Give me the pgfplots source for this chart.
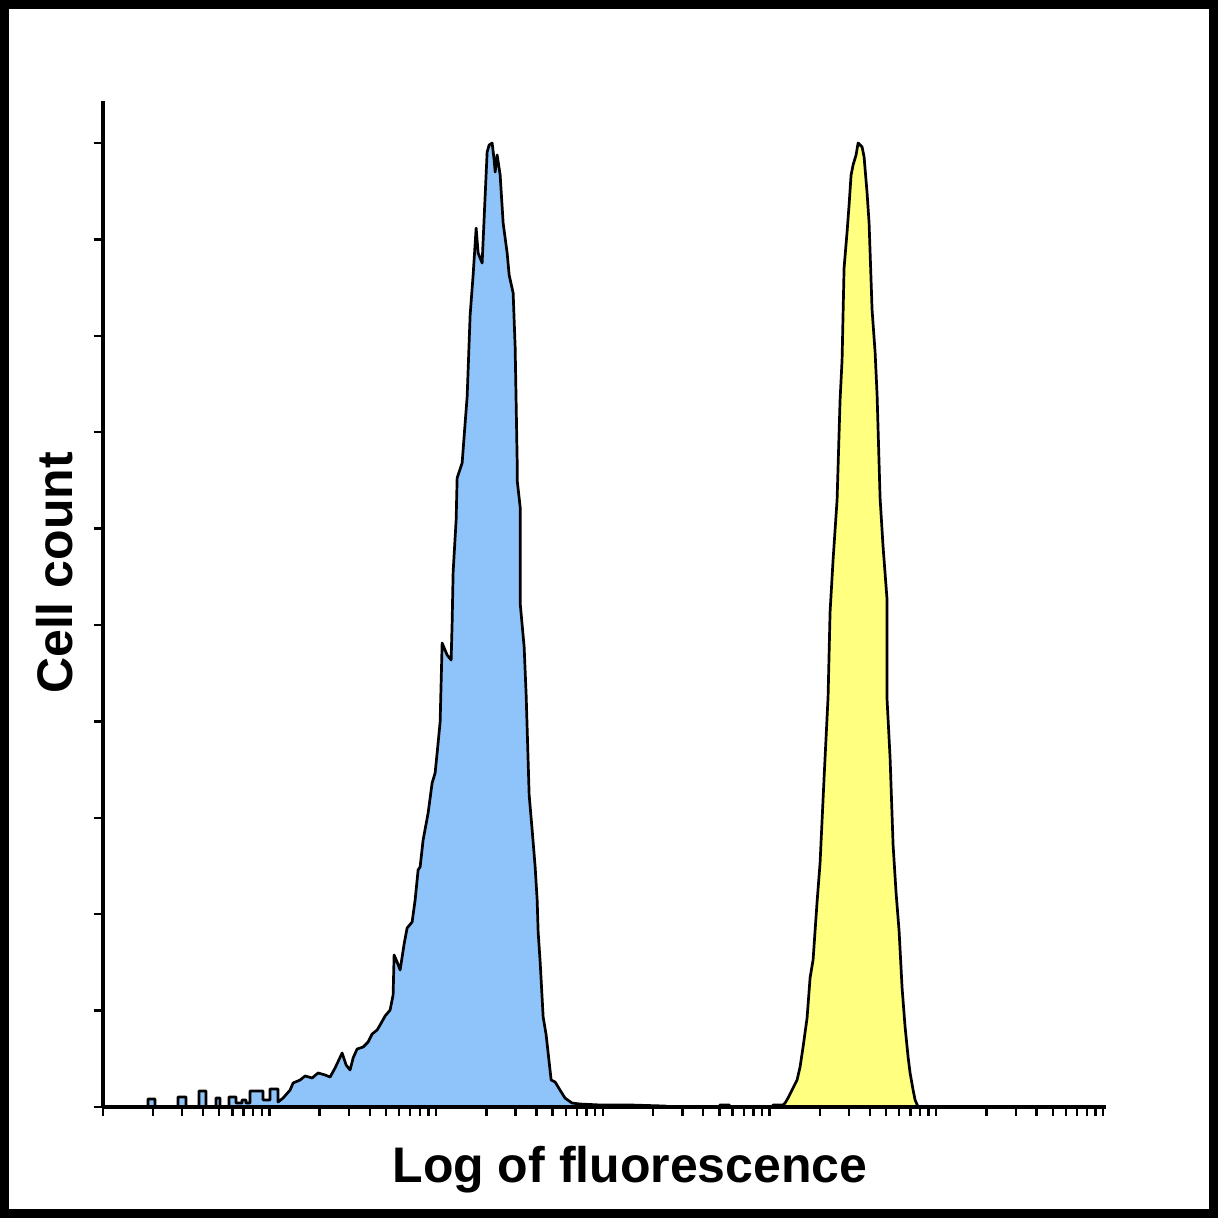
\documentclass[border=0pt]{standalone}
\usepackage{fontspec}
\setmainfont{Liberation Sans}
\usepackage{pgfplots}
\pgfplotsset{compat=1.18}
\usepackage{pgfplotstable}

\definecolor{histblue}{RGB}{142,196,250}
\definecolor{histyellow}{RGB}{255,255,128}

% x in decades (log10 of fluorescence), y in tick units
\pgfplotstableread{
x y
0.224 0
0.272 0
0.272 0.083
0.314 0.083
0.314 0
0.452 0
0.452 0.104
0.500 0.104
0.500 0
0.578 0
0.578 0.166
0.620 0.166
0.620 0
0.680 0
0.680 0.093
0.704 0.093
0.704 0
0.758 0
0.758 0.104
0.800 0.104
0.800 0.041
0.836 0.041
0.836 0.073
0.860 0.073
0.860 0.041
0.884 0.041
0.884 0.166
0.962 0.166
0.962 0.073
1.004 0.073
1.004 0.187
1.052 0.187
1.052 0.052
1.082 0.093
1.124 0.176
1.142 0.249
1.184 0.280
1.214 0.322
1.256 0.301
1.292 0.353
1.334 0.332
1.364 0.311
1.394 0.405
1.436 0.560
1.460 0.436
1.484 0.384
1.502 0.508
1.526 0.602
1.562 0.622
1.592 0.674
1.616 0.757
1.646 0.799
1.664 0.851
1.694 0.944
1.724 1.006
1.742 1.162
1.748 1.577
1.766 1.504
1.784 1.421
1.808 1.691
1.826 1.857
1.856 1.919
1.874 2.147
1.892 2.459
1.904 2.490
1.922 2.770
1.952 3.050
1.976 3.361
1.994 3.465
2.006 3.672
2.024 3.994
2.036 4.813
2.066 4.689
2.090 4.637
2.096 5.021
2.102 5.550
2.120 6.089
2.126 6.525
2.156 6.680
2.174 7.095
2.186 7.365
2.204 8.216
2.222 8.631
2.240 9.118
2.252 8.859
2.276 8.755
2.288 9.222
2.306 9.907
2.318 9.979
2.336 10.000
2.348 9.824
2.354 9.699
2.366 9.876
2.384 9.668
2.402 9.170
2.426 8.859
2.438 8.631
2.462 8.444
2.474 7.884
2.486 6.712
2.486 6.504
2.504 6.224
2.504 5.228
2.528 4.772
2.540 4.274
2.558 3.237
2.576 2.873
2.594 2.490
2.606 2.147
2.612 1.815
2.624 1.504
2.642 0.934
2.660 0.747
2.672 0.560
2.690 0.280
2.714 0.259
2.743 0.176
2.773 0.093
2.815 0.041
2.863 0.031
2.983 0.021
3.163 0.021
3.373 0.010
3.403 0
3.700 0
3.700 0.020
3.760 0.020
3.760 0
}\bluedata

\pgfplotstableread{
x y
4.015 0
4.021 0.021
4.081 0.021
4.093 0.041
4.111 0.093
4.141 0.197
4.165 0.280
4.183 0.415
4.201 0.622
4.225 0.923
4.243 1.338
4.261 1.525
4.285 2.127
4.303 2.531
4.327 3.413
4.351 4.253
4.363 5.135
4.381 5.674
4.405 6.297
4.423 7.334
4.435 7.749
4.447 8.703
4.465 9.077
4.477 9.357
4.489 9.668
4.501 9.772
4.519 9.876
4.531 10.000
4.555 9.959
4.567 9.855
4.585 9.481
4.597 9.170
4.615 8.268
4.633 7.832
4.645 7.386
4.663 6.317
4.681 5.809
4.705 5.259
4.705 4.222
4.723 3.620
4.741 2.718
4.759 2.220
4.777 1.826
4.795 1.234
4.813 0.830
4.831 0.519
4.843 0.353
4.861 0.176
4.873 0.073
4.891 0
}\yellowdata

\begin{document}
\begin{tikzpicture}
\begin{axis}[
    scale only axis,
    width=501.8pt, height=503.2pt,
    at={(51.35pt,55.5pt)}, anchor=south west,
    axis lines=left,
    axis line style={-, line width=1.8pt},
    axis on top,
    xmin=0, xmax=6.02,
    ymin=0, ymax=10.44,
    xtick={0,1,2,3,4,5,6},
    minor xtick={0.301,0.477,0.602,0.699,0.778,0.845,0.903,0.954,
                 1.301,1.477,1.602,1.699,1.778,1.845,1.903,1.954,
                 2.301,2.477,2.602,2.699,2.778,2.845,2.903,2.954,
                 3.301,3.477,3.602,3.699,3.778,3.845,3.903,3.954,
                 4.301,4.477,4.602,4.699,4.778,4.845,4.903,4.954,
                 5.301,5.477,5.602,5.699,5.778,5.845,5.903,5.954},
    ytick={0,1,...,10},
    xticklabels={}, yticklabels={},
    tick align=outside,
    major tick length=4.5pt, minor tick length=4.5pt,
    tick style={black, line width=1.2pt},
    clip=false,
]
\addplot[fill=histblue, draw=black, line width=1.35pt, line join=round] table[x=x, y=y] {\bluedata};
\addplot[fill=histyellow, draw=black, line width=1.35pt, line join=round] table[x=x, y=y] {\yellowdata};
\end{axis}

\node[anchor=base, font=\bfseries\fontsize{25}{30}\selectfont] at (315pt,17.5pt) {Log of fluorescence};
\node[anchor=base, rotate=90, font=\bfseries\fontsize{25}{30}\selectfont] at (36pt,322.5pt) {Cell count};

% black frame round the whole picture
\draw[line width=4.5pt] (2.25pt,2.25pt) rectangle (606.75pt,606.75pt);
\end{tikzpicture}
\end{document}
